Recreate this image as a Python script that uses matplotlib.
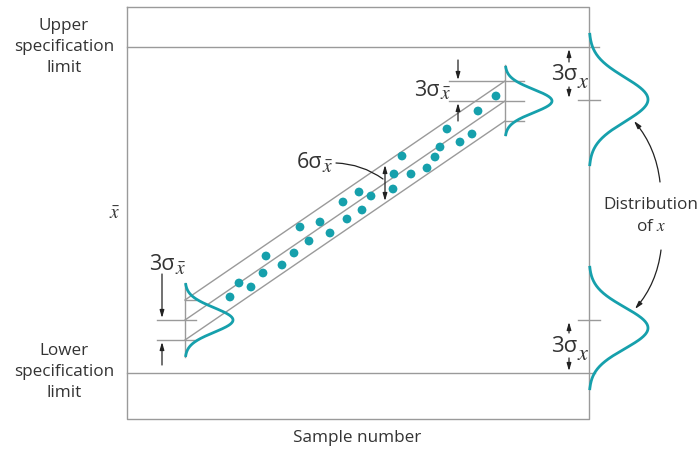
import numpy as np
import matplotlib.pyplot as plt

plt.rcParams['font.family'] = ['Open Sans', 'DejaVu Sans']
plt.rcParams['mathtext.fontset'] = 'stix'

teal = '#16a0ac'
grey = '#9a9a9a'
ink = '#333333'

# sample points (sample position, xbar value), in figure pixels
sample_x = [230, 239, 251, 263, 266, 282, 294, 300, 309, 320, 330, 343, 347, 359,
            362, 371, 393, 394, 402, 411, 427, 435, 440, 447, 460, 472, 478, 496]
xbar_y = [297, 283, 287, 273, 256, 265, 253, 227, 241, 222, 233, 202, 219, 192,
          210, 196, 189, 174, 156, 174, 168, 157, 147, 129, 142, 134, 111, 96]

# frame and limits
frame_left, frame_right, frame_top, frame_bottom = 127, 589, 6.5, 419
usl, lsl = 47, 373
mu_high, mu_low = 100, 320        # means of the two x distributions
xbar_start, xbar_end = (185, 320), (505, 101)   # centre line of the xbar band
band = 20                          # 3 sigma_xbar in pixels

fig = plt.figure(figsize=(6.99, 4.5), dpi=100)
ax = fig.add_axes([0, 0, 1, 1])
ax.set_xlim(0, 699)
ax.set_ylim(450, 0)
ax.axis('off')

lw = 1.0
# box
ax.plot([frame_left, frame_left, frame_right, frame_right, frame_left],
        [frame_top, frame_bottom, frame_bottom, frame_top, frame_top], color=grey, lw=lw)
ax.plot([frame_left, 599], [usl, usl], color=grey, lw=lw)
ax.plot([frame_left, 595], [lsl, lsl], color=grey, lw=lw)
ax.plot([578, 600], [mu_high, mu_high], color=grey, lw=lw)
ax.plot([578, 600], [mu_low, mu_low], color=grey, lw=lw)

# xbar band
x0, y0 = xbar_start
x1, y1 = xbar_end
for off in (-band, 0, band):
    ax.plot([x0, x1], [y0 + off, y1 + off], color=grey, lw=lw)
ax.plot([x0, x0], [283, 357], color=grey, lw=lw)
ax.plot([x1, x1], [65, 135], color=grey, lw=lw)
ax.plot([157, 196], [y0, y0], color=grey, lw=lw)
ax.plot([157, 196], [y0 + band, y0 + band], color=grey, lw=lw)
ax.plot([x0, 196], [y0 - band, y0 - band], color=grey, lw=lw)
ax.plot([449, 524], [y1 - band, y1 - band], color=grey, lw=lw)
ax.plot([449, 524], [y1, y1], color=grey, lw=lw)
ax.plot([x1, 524], [y1 + band, y1 + band], color=grey, lw=lw)

# distribution curves
def bell(xb, yc, sig, amp, nsig=3.0):
    t = np.linspace(-nsig * sig, nsig * sig, 200)
    ax.plot(xb + amp * np.exp(-0.5 * (t / sig) ** 2), yc + t, color=teal, lw=2.0,
            solid_capstyle='butt')

bell(x0, y0, 12.3, 48)
bell(x1, y1, 11.7, 47)
bell(frame_right, 99.5, 22.2, 59)
bell(frame_right, 328, 20.7, 59)

ax.scatter(sample_x, xbar_y, s=40, color=teal, edgecolors='none', zorder=3)

# arrows
def arr(x, ya, yb):
    ax.annotate('', xy=(x, yb), xytext=(x, ya),
                arrowprops=dict(arrowstyle='-|>,head_length=0.45,head_width=0.13',
                                color='#222222', lw=0.9, shrinkA=0, shrinkB=0))

arr(569, 62, 49)
arr(569, 87, 98)
arr(569, 333, 322)
arr(569, 358, 371)
arr(458, 60, 80)
arr(458, 121, 103)
arr(162, 274, 318)
arr(162, 365, 342)
ax.annotate('', xy=(385, 201), xytext=(385, 165),
            arrowprops=dict(arrowstyle='<|-|>,head_length=0.45,head_width=0.13',
                            color='#222222', lw=0.9, shrinkA=0, shrinkB=0))
ax.annotate('', xy=(383, 179), xytext=(336, 163),
            arrowprops=dict(arrowstyle='-', color='#222222', lw=0.9,
                            connectionstyle='arc3,rad=-0.15', shrinkA=0, shrinkB=0))
ax.annotate('', xy=(634, 121), xytext=(660, 182),
            arrowprops=dict(arrowstyle='-|>,head_length=0.45,head_width=0.13',
                            color='#222222', lw=0.9,
                            connectionstyle='arc3,rad=0.15', shrinkA=0, shrinkB=0))
ax.annotate('', xy=(635, 309), xytext=(661, 250),
            arrowprops=dict(arrowstyle='-|>,head_length=0.45,head_width=0.13',
                            color='#222222', lw=0.9,
                            connectionstyle='arc3,rad=-0.15', shrinkA=0, shrinkB=0))

# text
fs = 12.3
ax.text(64, 47, 'Upper\nspecification\nlimit', ha='center', va='center',
        fontsize=fs, color=ink, linespacing=1.42)
ax.text(64, 372, 'Lower\nspecification\nlimit', ha='center', va='center',
        fontsize=fs, color=ink, linespacing=1.42)
ax.text(115, 214, r'$\bar{x}$', ha='center', va='center', fontsize=14, color=ink)
ax.text(357, 438, 'Sample number', ha='center', va='center', fontsize=fs, color=ink)
ax.text(651, 205, 'Distribution', ha='center', va='center', fontsize=fs, color=ink)
ax.text(651, 227, 'of $x$', ha='center', va='center', fontsize=fs, color=ink)


def sigma_label(xs, y, main, sub, fs_main=15.5, fs_sub=14, dy=5):
    # main part ends at xs, subscript starts there, a bit lower
    ax.text(xs, y, main, ha='right', va='center', fontsize=fs_main, color=ink)
    ax.text(xs, y + dy, sub, ha='left', va='center', fontsize=fs_sub, color=ink)


sigma_label(440, 90, '3σ', r'$\bar{x}$')
sigma_label(175, 265, '3σ', r'$\bar{x}$')
sigma_label(322, 163, '6σ', r'$\bar{x}$')
sigma_label(577, 75, '3σ', r'$x$', fs_main=16, fs_sub=16, dy=7)
sigma_label(577, 347, '3σ', r'$x$', fs_main=16, fs_sub=16, dy=7)

fig.savefig('out.png', dpi=100)
